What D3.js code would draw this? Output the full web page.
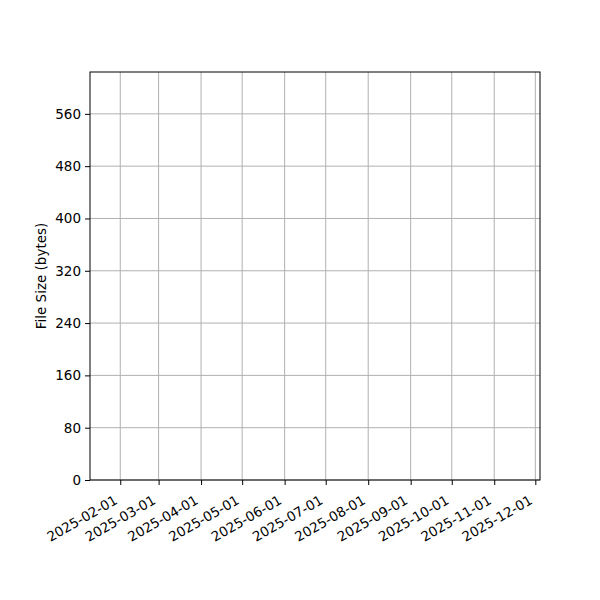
<!DOCTYPE html>
<html><head><meta charset="utf-8">
<script src="https://cdn.jsdelivr.net/npm/d3@7"></script>
<style>body{margin:0;background:#fff}text{font-family:"DejaVu Sans",sans-serif}</style>
</head><body><svg id="c" width="600" height="600"></svg>
<script>
// Data (the reference chart shows no data marks)
const dates = [];
const fileSizes = [];
const xTickLabels = ["2025-02-01","2025-03-01","2025-04-01","2025-05-01","2025-06-01","2025-07-01","2025-08-01","2025-09-01","2025-10-01","2025-11-01","2025-12-01"];
const yTickValues = [0,80,160,240,320,400,480,560];
const xDomain = ["2025-01-09T22:00:00","2025-12-04T10:00:00"];
const yDomain = [0, 624];
const yLabel = "File Size (bytes)";

const svg = d3.select("#c");
const L=90,R=540,T=72,B=480;
const parse = d3.isoParse;
const x = d3.scaleTime().domain(xDomain.map(parse)).range([L,R]);
const y = d3.scaleLinear().domain(yDomain).range([B,T]);
const fs = 13.5;

// grid
const g = svg.append("g");
g.selectAll(".gx").data(xTickLabels).join("line")
  .attr("x1",d=>x(parse(d))).attr("x2",d=>x(parse(d)))
  .attr("y1",T).attr("y2",B).attr("stroke","#b0b0b0").attr("stroke-width",1);
g.selectAll(".gy").data(yTickValues).join("line")
  .attr("x1",L).attr("x2",R).attr("y1",d=>y(d)).attr("y2",d=>y(d))
  .attr("stroke","#b0b0b0").attr("stroke-width",1);

// data marks (none)
svg.append("path").datum(dates.map((d,i)=>[parse(d),fileSizes[i]]))
  .attr("fill","none").attr("stroke","#1f77b4")
  .attr("d",d3.line().x(d=>x(d[0])).y(d=>y(d[1])));

// y axis
const ya = svg.append("g").attr("transform",`translate(${L},0)`)
  .call(d3.axisLeft(y).tickValues(yTickValues).tickSize(5).tickPadding(4));
ya.select(".domain").remove();
ya.selectAll("line").attr("stroke","#000").attr("stroke-width",1);
ya.selectAll("text").attr("font-size",fs).attr("fill","#000").attr("font-family","DejaVu Sans");

// x axis
const xa = svg.append("g").attr("transform",`translate(0,${B})`)
  .call(d3.axisBottom(x).tickValues(xTickLabels.map(parse)).tickSize(5).tickFormat(""));
xa.select(".domain").remove();
xa.selectAll("line").attr("stroke","#000").attr("stroke-width",1);
svg.append("g").selectAll("text").data(xTickLabels).join("text")
  .attr("transform",d=>`translate(${x(parse(d))-7},${B+14}) rotate(-30)`)
  .attr("text-anchor","end").attr("dy","0.76em")
  .attr("font-size",fs).attr("fill","#000").text(d=>d);

// frame
svg.append("rect").attr("x",L).attr("y",T).attr("width",R-L).attr("height",B-T)
  .attr("fill","none").attr("stroke","#000").attr("stroke-width",1);

// y label
svg.append("text").attr("transform",`translate(45.5,${(T+B)/2}) rotate(-90)`)
  .attr("text-anchor","middle").attr("font-size",fs).attr("fill","#000").text(yLabel);
</script></body></html>
